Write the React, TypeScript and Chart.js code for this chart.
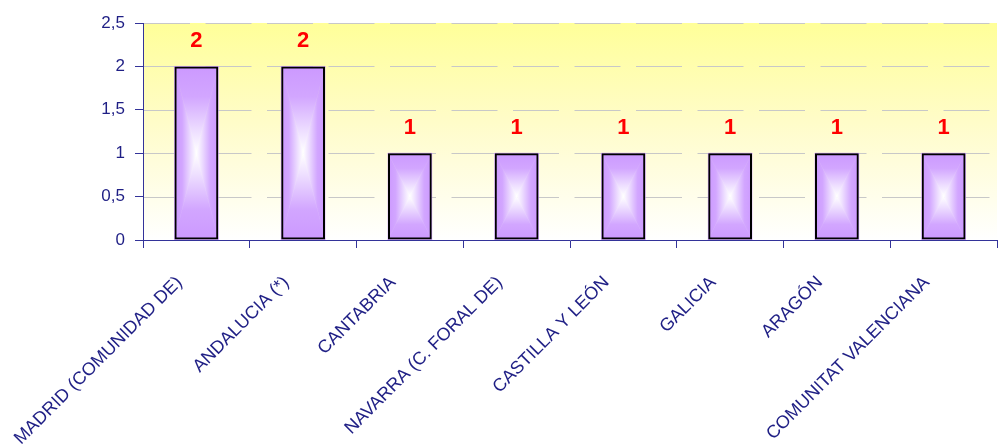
import React, { useEffect, useRef } from "react";
import { Chart, registerables } from "chart.js";

Chart.register(...registerables);

const categories: string[] = [
  "MADRID (COMUNIDAD DE)",
  "ANDALUCIA (*)",
  "CANTABRIA",
  "NAVARRA (C. FORAL DE)",
  "CASTILLA Y LEÓN",
  "GALICIA",
  "ARAGÓN",
  "COMUNITAT VALENCIANA",
];
const values: number[] = [2, 2, 1, 1, 1, 1, 1, 1];
const yMin = 0;
const yMax = 2.5;
const yStep = 0.5;

const AXIS = "#333399";
const TEXT = "#1f1f85";
const BAR_EDGE = "#cc99ff";

const bgPlugin = {
  id: "bgPlugin",
  beforeDraw(chart: any) {
    const { ctx, chartArea } = chart;
    const g = ctx.createLinearGradient(0, chartArea.top, 0, chartArea.bottom);
    g.addColorStop(0, "#ffff99");
    g.addColorStop(0.45, "#fffcc8");
    g.addColorStop(1, "#ffffff");
    ctx.save();
    ctx.fillStyle = g;
    ctx.fillRect(chartArea.left, chartArea.top, chartArea.right - chartArea.left, chartArea.bottom - chartArea.top);
    ctx.restore();
  },
};

const gridPlugin = {
  id: "gridPlugin",
  beforeDatasetsDraw(chart: any) {
    const { ctx, chartArea } = chart;
    const ys = chart.scales.y;
    ctx.save();
    ctx.strokeStyle = "#c8c8c8";
    ctx.lineWidth = 1;
    ctx.setLineDash([46, 15.5]);
    ys.ticks.forEach((t: any) => {
      if (t.value === yMin) return;
      const y = Math.round(ys.getPixelForValue(t.value)) + 0.5;
      ctx.beginPath();
      ctx.moveTo(chartArea.left + 1, y);
      ctx.lineTo(chartArea.right, y);
      ctx.stroke();
    });
    ctx.restore();
  },
};

function stops(g: CanvasGradient) {
  g.addColorStop(0, BAR_EDGE);
  g.addColorStop(0.35, "#d2a6ff");
  g.addColorStop(0.75, "#eedfff");
  g.addColorStop(1, "#ffffff");
}

const barFillPlugin = {
  id: "barFillPlugin",
  beforeDatasetsDraw(chart: any) {
    const { ctx } = chart;
    const meta = chart.getDatasetMeta(0);
    ctx.save();
    meta.data.forEach((bar: any) => {
      const p = bar.getProps(["x", "y", "base", "width"], true);
      const l = p.x - p.width / 2;
      const r = p.x + p.width / 2;
      const t = Math.min(p.y, p.base);
      const b = Math.max(p.y, p.base);
      const cx = (l + r) / 2;
      const cy = (t + b) / 2;
      const tris: [number[], CanvasGradient][] = [];
      let g = ctx.createLinearGradient(0, t, 0, cy);
      stops(g);
      tris.push([[l, t, r, t, cx, cy], g]);
      g = ctx.createLinearGradient(0, b, 0, cy);
      stops(g);
      tris.push([[l, b, r, b, cx, cy], g]);
      g = ctx.createLinearGradient(l, 0, cx, 0);
      stops(g);
      tris.push([[l, t, l, b, cx, cy], g]);
      g = ctx.createLinearGradient(r, 0, cx, 0);
      stops(g);
      tris.push([[r, t, r, b, cx, cy], g]);
      tris.forEach(([pts, grad]) => {
        ctx.beginPath();
        ctx.moveTo(pts[0], pts[1]);
        ctx.lineTo(pts[2], pts[3]);
        ctx.lineTo(pts[4], pts[5]);
        ctx.closePath();
        ctx.fillStyle = grad;
        ctx.fill();
        ctx.strokeStyle = grad;
        ctx.lineWidth = 0.6;
        ctx.stroke();
      });
    });
    ctx.restore();
  },
  afterDatasetsDraw(chart: any) {
    const { ctx } = chart;
    const meta = chart.getDatasetMeta(0);
    ctx.save();
    ctx.fillStyle = "#ff0000";
    ctx.font = "bold 22px 'Liberation Sans', Arial, sans-serif";
    ctx.textAlign = "center";
    ctx.textBaseline = "alphabetic";
    meta.data.forEach((bar: any, i: number) => {
      const p = bar.getProps(["x", "y"], true);
      ctx.fillText(String(values[i]), p.x, p.y - 19);
    });
    ctx.restore();
  },
};

export default function App() {
  const ref = useRef<HTMLCanvasElement | null>(null);
  useEffect(() => {
    document.body.style.margin = "0";
    const canvas = ref.current!;
    const chart = new Chart(canvas, {
      type: "bar",
      data: {
        labels: categories,
        datasets: [
          {
            data: values,
            backgroundColor: "rgba(0,0,0,0)",
            borderColor: "#000000",
            borderWidth: 2,
            borderSkipped: false,
            barPercentage: 0.82,
            categoryPercentage: 0.5,
          },
        ],
      },
      options: {
        responsive: false,
        animation: false,
        layout: { padding: { top: 23, right: 3, left: 0, bottom: 0 } },
        plugins: {
          legend: { display: false },
          tooltip: { enabled: false },
        },
        scales: {
          x: {
            offset: true,
            grid: {
              offset: true,
              drawOnChartArea: false,
              drawTicks: true,
              tickLength: 8,
              color: AXIS,
              tickColor: AXIS,
            },
            border: { color: AXIS, width: 1 },
            ticks: {
              autoSkip: false,
              maxRotation: 45,
              minRotation: 45,
              color: TEXT,
              padding: 24,
              labelOffset: -17,
              font: { family: "'Liberation Sans', Arial, sans-serif", size: 18 },
            },
            afterFit(scale: any) {
              scale.height = 205;
            },
          },
          y: {
            min: yMin,
            max: yMax,
            ticks: {
              stepSize: yStep,
              color: TEXT,
              padding: 10,
              font: { family: "'Liberation Sans', Arial, sans-serif", size: 17 },
              callback: (v: any) => String(v).replace(".", ","),
            },
            grid: {
              drawOnChartArea: false,
              drawTicks: true,
              color: AXIS,
              tickColor: AXIS,
              tickLength: 8,
              lineWidth: 1,
            },
            border: { color: AXIS, width: 1 },
            afterFit(scale: any) {
              scale.width = 143;
            },
          },
        },
      } as any,
      plugins: [bgPlugin, gridPlugin, barFillPlugin],
    });
    return () => chart.destroy();
  }, []);
  return <canvas ref={ref} width={1000} height={445} style={{ display: "block" }} />;
}
